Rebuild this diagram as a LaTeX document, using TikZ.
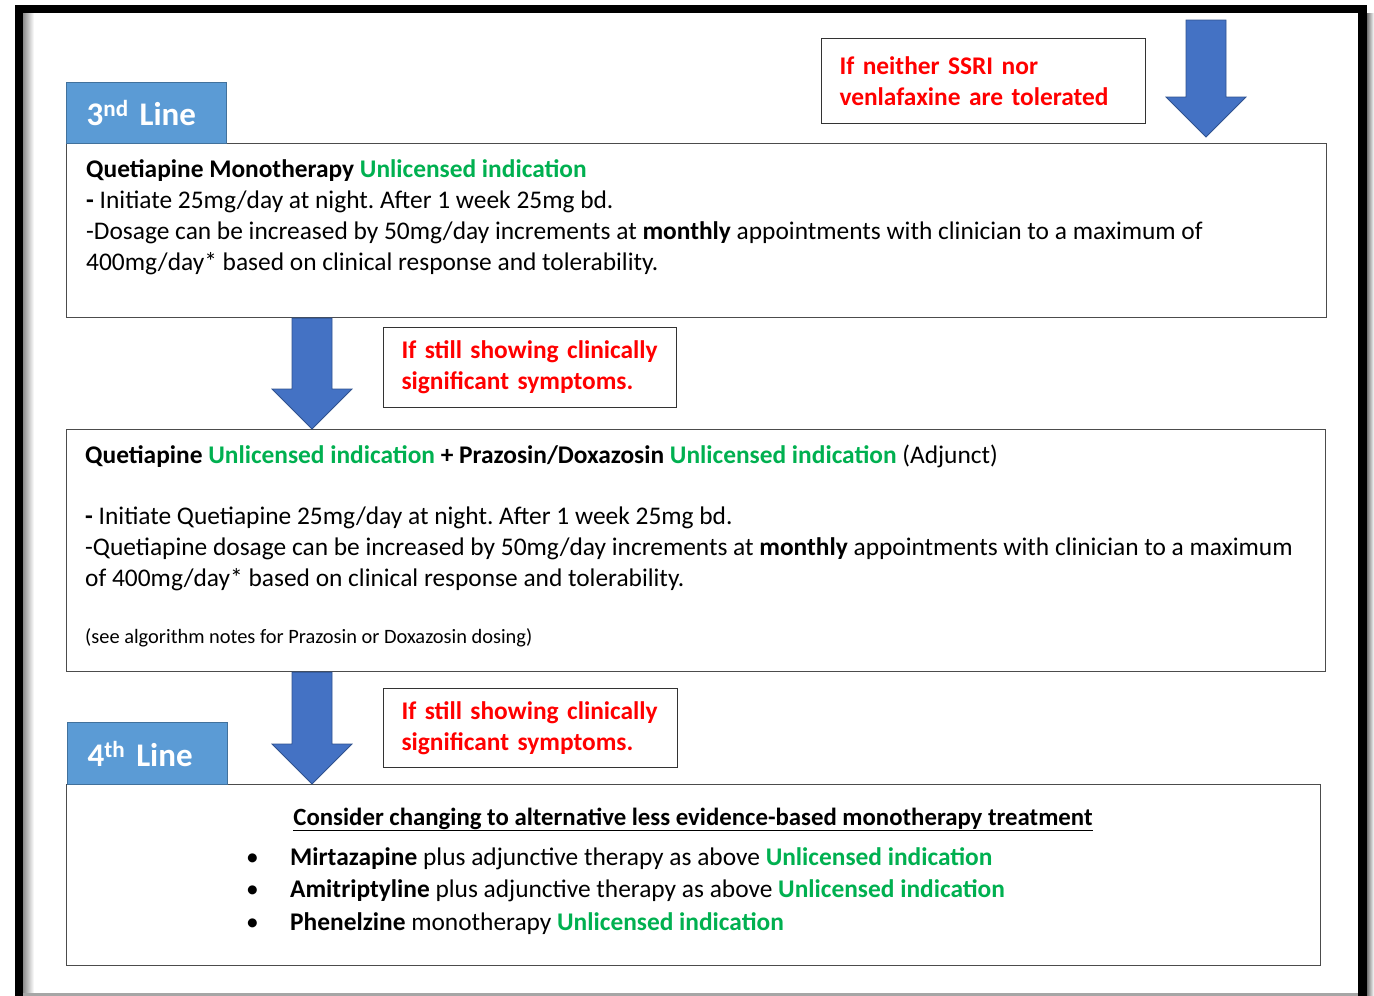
\documentclass[tikz,border=0pt]{standalone}
\usepackage{fontspec}
\setmainfont{Carlito}
\usetikzlibrary{positioning, calc}

\definecolor{licgreen}{HTML}{00B050}
\definecolor{condred}{HTML}{FF0000}
\definecolor{tabblue}{HTML}{5B9BD5}
\definecolor{tabedge}{HTML}{41719C}
\definecolor{arrowblue}{HTML}{4472C4}
\definecolor{arrowedge}{HTML}{2F528F}

\newcommand{\unlic}{\textcolor{licgreen}{\textbf{Unlicensed indication}}}
\newcommand{\tightspace}{\spaceskip=0.23em\relax}
\frenchspacing

\begin{document}
\begin{tikzpicture}[
      x=1pt, y=-1pt,
      box/.style={rectangle, draw=black!70, line width=1.1pt, anchor=north west, inner sep=0pt},
      tab/.style={rectangle, draw=tabedge, line width=1.3pt, fill=tabblue, anchor=north west,
                  inner xsep=20pt, inner ysep=0pt, align=left, text=white,
                  font=\fontsize{33}{38}\selectfont\bfseries\tightspace},
      cond/.style={rectangle, draw=black!80, line width=1pt, anchor=north west, inner xsep=18pt,
                   inner ysep=0pt, align=left, text=condred,
                   font=\fontsize{25.4}{31}\selectfont\bfseries\tightspace},
      bodytext/.style={inner sep=0pt, align=left, anchor=base west, font=\fontsize{25.4}{31}\selectfont},
      bigarrow/.style={fill=arrowblue, draw=arrowedge, line width=0.8pt,
        to path={let \p1=(\tikztostart), \p2=(\tikztotarget) in
          (\x1-20pt,\y1) -- (\x1+20pt,\y1) -- (\x1+20pt,\y2+40pt) -- (\x1+40pt,\y2+40pt)
          -- (\x2,\y2) -- (\x1-40pt,\y2+40pt) -- (\x1-20pt,\y2+40pt) -- cycle}}
    ]
    \useasboundingbox (0,0) rectangle (1374,996);

    % page frame of the screenshot
    \shade[left color=black!45, right color=white] (23,13) rectangle (34,996);
    \fill[black!35] (23,993) rectangle (1358,996);
    \shade[left color=black!55, right color=white] (1367,13) rectangle (1374,996);
    \fill[black] (15,5) rectangle (1367,13);
    \fill[black] (15,5) rectangle (23,996);
    \fill[black] (1358,5) rectangle (1367,996);

    % boxes
    \node[box, minimum width=1260pt, minimum height=174pt] (boxthree) at (66,143) {};
    \node[box, minimum width=1259pt, minimum height=242pt] (boxadj) at (66,429) {};
    \node[box, minimum width=1254pt, minimum height=181pt] (boxfour) at (66,784) {};

    \node[tab, text width=120pt, minimum height=61pt] (tabthree) at (66,82) {3\textsuperscript{nd} Line};
    \node[tab, text width=120pt, minimum height=62pt] (tabfour) at (67,722) {4\textsuperscript{th} Line};

    \node[cond, text width=288pt, minimum height=85pt] (condtop) at (821,38)
      {If neither SSRI nor\\venlafaxine are tolerated};
    \node[cond, text width=257pt, minimum height=80pt] (condmid) at (383,327)
      {If still showing clinically\\significant symptoms.};
    \node[cond, text width=258pt, minimum height=79pt] (condlow) at (383,688)
      {If still showing clinically\\significant symptoms.};

    % texts (base = last line)
    \node[bodytext] (txtthree) at ($(boxthree.north west)+(20,127)$)
      {\textbf{Quetiapine Monotherapy} \unlic\\
       \textbf{-} Initiate 25mg/day at night. After 1 week 25mg bd.\\
       -Dosage can be increased by 50mg/day increments at \textbf{monthly} appointments with clinician to a maximum of\\
       400mg/day* based on clinical response and tolerability.};
    \node[bodytext] (txtadj) at ($(boxadj.north west)+(19,157)$)
      {\textbf{Quetiapine} \unlic{} \textbf{+ Prazosin/Doxazosin} \unlic{} (Adjunct)\\[30pt]
       \textbf{-} Initiate Quetiapine 25mg/day at night. After 1 week 25mg bd.\\
       -Quetiapine dosage can be increased by 50mg/day increments at \textbf{monthly} appointments with clinician to a maximum\\
       of 400mg/day* based on clinical response and tolerability.};
    \node[bodytext, font=\fontsize{20.4}{24}\selectfont] (noteadj) at ($(boxadj.north west)+(19,214)$)
      {(see algorithm notes for Prazosin or Doxazosin dosing)};
    \node[bodytext, anchor=base, font=\fontsize{24.8}{31}\selectfont] (headfour) at ($(boxfour.north west)+(627,41)$)
      {\textbf{\underline{Consider changing to alternative less evidence-based monotherapy treatment}}};
    \node[bodytext, font=\fontsize{25.4}{32.5}\selectfont] (listfour) at ($(boxfour.north west)+(180,146)$)
      {\makebox[44pt][l]{\textbullet}\textbf{Mirtazapine} plus adjunctive therapy as above \unlic\\
       \makebox[44pt][l]{\textbullet}\textbf{Amitriptyline} plus adjunctive therapy as above \unlic\\
       \makebox[44pt][l]{\textbullet}\textbf{Phenelzine} monotherapy \unlic};

    % block arrows
    \coordinate (toptail) at (1206,20);
    \coordinate (toptip) at ($(boxthree.north west)+(1140,-6)$);
    \coordinate (midtail) at ($(boxthree.south west)+(246,0)$);
    \coordinate (midtip) at ($(boxadj.north west)+(246,0)$);
    \coordinate (lowtail) at ($(boxadj.south west)+(246,0)$);
    \coordinate (lowtip) at ($(boxfour.north west)+(246,0)$);

    \draw[bigarrow] (toptail) to (toptip);
    \draw[bigarrow] (midtail) to (midtip);
    \draw[bigarrow] (lowtail) to (lowtip);
  \end{tikzpicture}
\end{document}
